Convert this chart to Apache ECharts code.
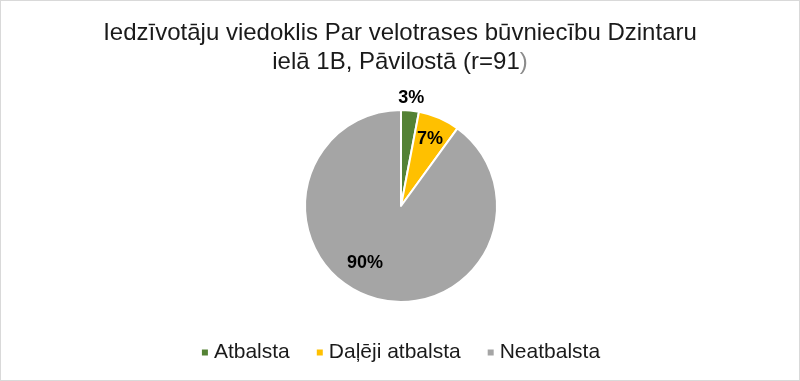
<!DOCTYPE html>
<html><head><meta charset="utf-8">
<script src="https://cdn.jsdelivr.net/npm/echarts@6/dist/echarts.min.js"></script>
<style>html,body{margin:0;padding:0;background:#fff}#c{width:800px;height:381px;box-sizing:border-box;border:1px solid #d9d9d9}</style>
</head><body><div id="c"></div>
<script>
const categories = ['Atbalsta', 'Daļēji atbalsta', 'Neatbalsta'];
const values = [3, 7, 90];
const colors = ['#548235', '#FFC000', '#A5A5A5'];
const labelOffsets = [[3, -30], [-2, 5], [-12, -17]];

const chart = echarts.init(document.getElementById('c'));
const mainData = categories.map((n, i) => ({ name: n, value: values[i], itemStyle: { color: colors[i] } }));
const labelData = categories.map((n, i) => ({ name: n, value: values[i], label: { offset: labelOffsets[i] } }));
chart.setOption({
  animation: false,
  title: {
    text: 'Iedzīvotāju viedoklis Par velotrases būvniecību Dzintaru\nielā 1B, Pāvilostā (r=91{g|)}',
    left: 'center', top: 13,
    textStyle: { fontFamily: 'Liberation Sans', fontSize: 24, fontWeight: 'normal', color: '#1a1a1a', lineHeight: 29,
      rich: { g: { fontFamily: 'Liberation Sans', fontSize: 24, color: '#8c8c8c', lineHeight: 29 } } }
  },
  legend: {
    bottom: 12, left: 'center', itemWidth: 8, itemHeight: 8, itemGap: 25, icon: 'rect',
    textStyle: { fontFamily: 'Liberation Sans', fontSize: 21, color: '#1a1a1a' },
    data: categories
  },
  series: [
    {
      type: 'pie', center: [400, 205], radius: 96, startAngle: 90, clockwise: true,
      itemStyle: { borderColor: '#fff', borderWidth: 2 },
      label: { show: false }, labelLine: { show: false },
      data: mainData
    },
    {
      type: 'pie', center: [400, 205], radius: 150, startAngle: 90, clockwise: true, silent: true,
      itemStyle: { color: 'rgba(0,0,0,0)' },
      label: { show: true, position: 'inside', formatter: '{c}%', fontFamily: 'Liberation Sans', fontSize: 18, fontWeight: 'bold', color: '#000' },
      labelLine: { show: false },
      data: labelData
    }
  ]
});
</script></body></html>
